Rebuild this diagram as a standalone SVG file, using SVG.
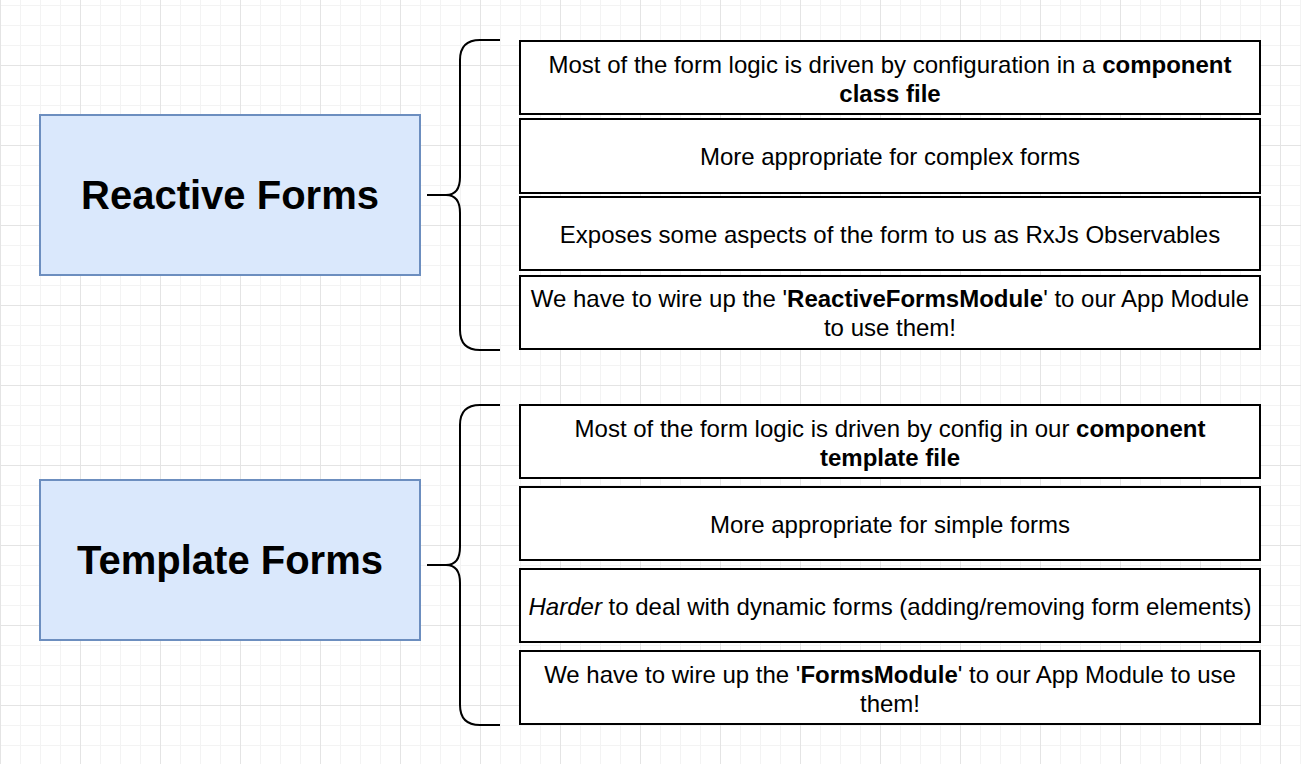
<svg xmlns="http://www.w3.org/2000/svg" width="1301" height="764" viewBox="0 0 1301 764">
<defs>
<pattern id="minor" patternUnits="userSpaceOnUse" x="0" y="5" width="20" height="20">
<rect x="0" y="0" width="1" height="20" fill="#f3f3f3"/>
<rect x="0" y="0" width="20" height="1" fill="#f3f3f3"/>
</pattern>
<pattern id="major" patternUnits="userSpaceOnUse" x="0" y="-15" width="80" height="80">
<rect x="0" y="0" width="1" height="80" fill="#e4e4e4"/>
<rect x="0" y="0" width="80" height="1" fill="#e4e4e4"/>
</pattern>
<style>
.main{fill:#dae8fc;stroke:#6c8ebf;stroke-width:2}
.item{fill:#ffffff;stroke:#000000;stroke-width:2}
.brace{fill:none;stroke:#000000;stroke-width:2}
.title{font-family:"Liberation Sans",Arial,Helvetica,sans-serif;font-size:40px;font-weight:bold;fill:#000;text-anchor:middle}
.txt{font-family:"Liberation Sans",Arial,Helvetica,sans-serif;font-size:24px;fill:#000;text-anchor:middle}
.b{font-weight:bold}
.i{font-style:italic}
</style>
</defs>
<rect x="0" y="0" width="1301" height="764" fill="#ffffff"/>
<rect x="0" y="0" width="1301" height="764" fill="url(#minor)"/>
<rect x="0" y="0" width="1301" height="764" fill="url(#major)"/>

<g id="connectors">
<path class="brace" d="M 500 40 H 480 Q 460 40 460 60 V 177 Q 460 195 446 195 H 427 M 446 195 Q 460 195 460 213 V 330 Q 460 350 480 350 H 500"/>
<path class="brace" d="M 500 405 H 480 Q 460 405 460 425 V 547 Q 460 565 446 565 H 427 M 446 565 Q 460 565 460 583 V 705 Q 460 725 480 725 H 500"/>
</g>

<g id="reactive-forms">
<rect class="main" x="40" y="115" width="380" height="160"/>
<text class="title" x="230" y="209">Reactive Forms</text>
</g>

<g id="template-forms">
<rect class="main" x="40" y="480" width="380" height="160"/>
<text class="title" x="230" y="574">Template Forms</text>
</g>

<g id="r1">
<rect class="item" x="520" y="41" width="740" height="73"/>
<text class="txt" x="890" y="73">Most of the form logic is driven by configuration in a <tspan class="b">component</tspan></text>
<text class="txt b" x="890" y="102">class file</text>
</g>
<g id="r2">
<rect class="item" x="520" y="119" width="740" height="74"/>
<text class="txt" x="890" y="165">More appropriate for complex forms</text>
</g>
<g id="r3">
<rect class="item" x="520" y="197" width="740" height="73"/>
<text class="txt" x="890" y="242.5">Exposes some aspects of the form to us as RxJs Observables</text>
</g>
<g id="r4">
<rect class="item" x="520" y="276" width="740" height="73"/>
<text class="txt" x="890" y="307">We have to wire up the '<tspan class="b">ReactiveFormsModule</tspan>' to our App Module</text>
<text class="txt" x="890" y="336">to use them!</text>
</g>

<g id="t1">
<rect class="item" x="520" y="405" width="740" height="73"/>
<text class="txt" x="890" y="437">Most of the form logic is driven by config in our <tspan class="b">component</tspan></text>
<text class="txt b" x="890" y="466">template file</text>
</g>
<g id="t2">
<rect class="item" x="520" y="487" width="740" height="73"/>
<text class="txt" x="890" y="532.5">More appropriate for simple forms</text>
</g>
<g id="t3">
<rect class="item" x="520" y="569" width="740" height="73"/>
<text class="txt" x="890" y="614.5"><tspan class="i">Harder</tspan> to deal with dynamic forms (adding/removing form elements)</text>
</g>
<g id="t4">
<rect class="item" x="520" y="651" width="740" height="73"/>
<text class="txt" x="890" y="682.5">We have to wire up the '<tspan class="b">FormsModule</tspan>' to our App Module to use</text>
<text class="txt" x="890" y="711.5">them!</text>
</g>
</svg>
